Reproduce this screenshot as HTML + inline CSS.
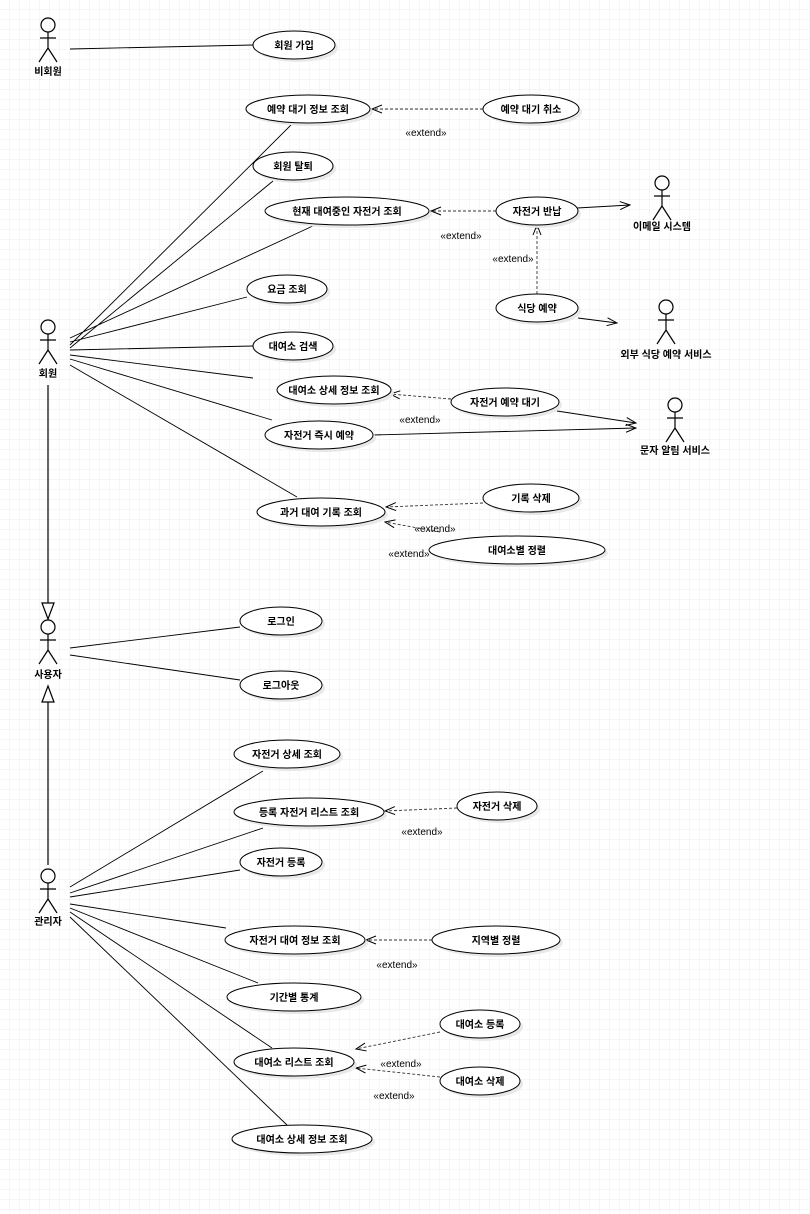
<!DOCTYPE html>
<html><head><meta charset="utf-8"><style>
html,body{margin:0;padding:0;background:#fff}
svg{display:block}
text{font-family:"Liberation Sans","Noto Sans CJK KR",sans-serif;font-size:10px;fill:#000}
.b{font-weight:bold}
</style></head><body>
<svg width="810" height="1214" viewBox="0 0 810 1214" xmlns="http://www.w3.org/2000/svg">
<defs>
<pattern id="g" width="10" height="10" patternUnits="userSpaceOnUse"><path d="M10 0V10H0" fill="none" stroke="#ececec" stroke-width="1"/></pattern>
<marker id="oa" markerWidth="12" markerHeight="10" refX="11" refY="5" orient="auto" markerUnits="userSpaceOnUse"><path d="M1 1L11 5L1 9" fill="none" stroke="#000" stroke-width="1" stroke-dasharray="none"/></marker>
</defs>
<rect width="810" height="1214" fill="url(#g)"/>
<g fill="none" stroke="#000" stroke-width="1.2">
<circle cx="48" cy="25" r="7"/><path d="M48 32V48M40 38H56M48 48L39 62M48 48L57 62"/>
<circle cx="48" cy="327" r="7"/><path d="M48 334V350M40 340H56M48 350L39 364M48 350L57 364"/>
<circle cx="48" cy="627" r="7"/><path d="M48 634V650M40 640H56M48 650L39 664M48 650L57 664"/>
<circle cx="48" cy="876" r="7"/><path d="M48 883V899M40 889H56M48 899L39 913M48 899L57 913"/>
<circle cx="662" cy="183" r="7"/><path d="M662 190V206M654 196H670M662 206L653 220M662 206L671 220"/>
<circle cx="666" cy="307" r="7"/><path d="M666 314V330M658 320H674M666 330L657 344M666 330L675 344"/>
<circle cx="675" cy="405" r="7"/><path d="M675 412V428M667 418H683M675 428L666 442M675 428L684 442"/>
<path d="M48 385V603M42 603H54L48 619Z"/>
<path d="M48 865V702M42 702H54L48 686Z"/>
</g>
<g fill="none" stroke="#000" stroke-width="0.9">
<path d="M70 49L253 45"/>
<path d="M70 345L293 123M70 348L273 181M70 338L315 225M70 342L247 297M70 350L253 346M70 355L253 378M70 359L272 420M70 365L297 497"/>
<path d="M70 648L240 627M70 655L240 680"/>
<path d="M70 887L263 771M70 893L263 828M70 897L240 870M70 904L226 928M70 908L258 983M70 912L272 1048M70 917L287 1125"/>
</g>
<g fill="none" stroke="#000" stroke-width="0.9" marker-end="url(#oa)">
<path d="M577 208L630 205"/>
<path d="M578 318L617 323"/>
<path d="M557 411L636 423"/>
<path d="M373 435L636 428"/>
</g>
<g fill="none" stroke="#333" stroke-width="0.9" stroke-dasharray="3,2" marker-end="url(#oa)">
<path d="M483 109L372 109"/>
<path d="M496 211L431 211"/>
<path d="M537 294L537 225"/>
<path d="M451 399L390 394"/>
<path d="M483 503L386 507"/>
<path d="M440 532L385 522"/>
<path d="M457 808L385 811"/>
<path d="M432 940L366 940"/>
<path d="M440 1032L356 1049"/>
<path d="M440 1077L356 1068"/>
</g>
<g stroke="#000" stroke-width="1" fill="#fff">
<g transform="translate(3,3)" fill="#e8e8e8" stroke="none">
<ellipse cx="294" cy="45" rx="41" ry="14"/><ellipse cx="308" cy="109" rx="62" ry="14"/><ellipse cx="531" cy="109" rx="48" ry="14"/><ellipse cx="293" cy="166" rx="40" ry="14"/><ellipse cx="347" cy="211" rx="82" ry="14"/><ellipse cx="537" cy="211" rx="41" ry="14"/><ellipse cx="537" cy="308" rx="41" ry="14"/><ellipse cx="287" cy="289" rx="40" ry="14"/><ellipse cx="293" cy="346" rx="40" ry="14"/><ellipse cx="334" cy="390" rx="57" ry="14"/><ellipse cx="505" cy="402" rx="54" ry="14"/><ellipse cx="319" cy="435" rx="54" ry="14"/><ellipse cx="321" cy="512" rx="64" ry="14"/><ellipse cx="531" cy="498" rx="48" ry="14"/><ellipse cx="517" cy="550" rx="88" ry="14"/><ellipse cx="281" cy="621" rx="41" ry="14"/><ellipse cx="281" cy="685" rx="41" ry="14"/><ellipse cx="287" cy="754" rx="53" ry="14"/><ellipse cx="309" cy="812" rx="75" ry="14"/><ellipse cx="497" cy="806" rx="40" ry="14"/><ellipse cx="281" cy="862" rx="41" ry="14"/><ellipse cx="295" cy="940" rx="70" ry="14"/><ellipse cx="496" cy="940" rx="64" ry="14"/><ellipse cx="294" cy="997" rx="67" ry="14"/><ellipse cx="480" cy="1024" rx="40" ry="14"/><ellipse cx="294" cy="1062" rx="60" ry="14"/><ellipse cx="480" cy="1081" rx="40" ry="14"/><ellipse cx="302" cy="1139" rx="70" ry="14"/>
</g>
<ellipse cx="294" cy="45" rx="41" ry="14"/><ellipse cx="308" cy="109" rx="62" ry="14"/><ellipse cx="531" cy="109" rx="48" ry="14"/><ellipse cx="293" cy="166" rx="40" ry="14"/><ellipse cx="347" cy="211" rx="82" ry="14"/><ellipse cx="537" cy="211" rx="41" ry="14"/><ellipse cx="537" cy="308" rx="41" ry="14"/><ellipse cx="287" cy="289" rx="40" ry="14"/><ellipse cx="293" cy="346" rx="40" ry="14"/><ellipse cx="334" cy="390" rx="57" ry="14"/><ellipse cx="505" cy="402" rx="54" ry="14"/><ellipse cx="319" cy="435" rx="54" ry="14"/><ellipse cx="321" cy="512" rx="64" ry="14"/><ellipse cx="531" cy="498" rx="48" ry="14"/><ellipse cx="517" cy="550" rx="88" ry="14"/><ellipse cx="281" cy="621" rx="41" ry="14"/><ellipse cx="281" cy="685" rx="41" ry="14"/><ellipse cx="287" cy="754" rx="53" ry="14"/><ellipse cx="309" cy="812" rx="75" ry="14"/><ellipse cx="497" cy="806" rx="40" ry="14"/><ellipse cx="281" cy="862" rx="41" ry="14"/><ellipse cx="295" cy="940" rx="70" ry="14"/><ellipse cx="496" cy="940" rx="64" ry="14"/><ellipse cx="294" cy="997" rx="67" ry="14"/><ellipse cx="480" cy="1024" rx="40" ry="14"/><ellipse cx="294" cy="1062" rx="60" ry="14"/><ellipse cx="480" cy="1081" rx="40" ry="14"/><ellipse cx="302" cy="1139" rx="70" ry="14"/>
</g>
<g text-anchor="middle">
<text x="294" y="49" class="b">회원 가입</text>
<text x="308" y="113" class="b">예약 대기 정보 조회</text>
<text x="531" y="113" class="b">예약 대기 취소</text>
<text x="293" y="170" class="b">회원 탈퇴</text>
<text x="347" y="215" class="b">현재 대여중인 자전거 조회</text>
<text x="537" y="215" class="b">자전거 반납</text>
<text x="537" y="312" class="b">식당 예약</text>
<text x="287" y="293" class="b">요금 조회</text>
<text x="293" y="350" class="b">대여소 검색</text>
<text x="334" y="394" class="b">대여소 상세 정보 조회</text>
<text x="505" y="406" class="b">자전거 예약 대기</text>
<text x="319" y="439" class="b">자전거 즉시 예약</text>
<text x="321" y="516" class="b">과거 대여 기록 조회</text>
<text x="531" y="502" class="b">기록 삭제</text>
<text x="517" y="554" class="b">대여소별 정렬</text>
<text x="281" y="625" class="b">로그인</text>
<text x="281" y="689" class="b">로그아웃</text>
<text x="287" y="758" class="b">자전거 상세 조회</text>
<text x="309" y="816" class="b">등록 자전거 리스트 조회</text>
<text x="497" y="810" class="b">자전거 삭제</text>
<text x="281" y="866" class="b">자전거 등록</text>
<text x="295" y="944" class="b">자전거 대여 정보 조회</text>
<text x="496" y="944" class="b">지역별 정렬</text>
<text x="294" y="1001" class="b">기간별 통계</text>
<text x="480" y="1028" class="b">대여소 등록</text>
<text x="294" y="1066" class="b">대여소 리스트 조회</text>
<text x="480" y="1085" class="b">대여소 삭제</text>
<text x="302" y="1143" class="b">대여소 상세 정보 조회</text>
<text x="48" y="75" class="b">비회원</text>
<text x="48" y="377" class="b">회원</text>
<text x="48" y="678" class="b">사용자</text>
<text x="48" y="925" class="b">관리자</text>
<text x="662" y="230" class="b">이메일 시스템</text>
<text x="666" y="358" class="b">외부 식당 예약 서비스</text>
<text x="675" y="454" class="b">문자 알림 서비스</text>
</g>
<g text-anchor="middle">
<text x="426" y="136">«extend»</text>
<text x="461" y="239">«extend»</text>
<text x="513" y="262">«extend»</text>
<text x="420" y="423">«extend»</text>
<text x="435" y="532">«extend»</text>
<text x="409" y="557">«extend»</text>
<text x="422" y="835">«extend»</text>
<text x="397" y="968">«extend»</text>
<text x="401" y="1067">«extend»</text>
<text x="394" y="1099">«extend»</text>
</g>
</svg>
</body></html>
